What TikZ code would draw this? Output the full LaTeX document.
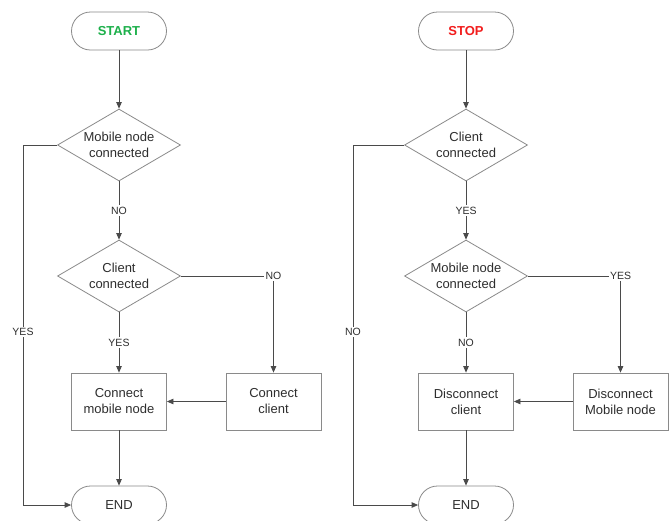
\documentclass[tikz,border=0pt]{standalone}
\usepackage{fontspec}
\setmainfont{Liberation Sans}
\usetikzlibrary{shapes.geometric,arrows.meta}
\definecolor{shapeline}{HTML}{8A8A8A}
\definecolor{linecol}{HTML}{4A4A4A}
\definecolor{txt}{HTML}{2E2E2E}
\definecolor{startgreen}{HTML}{1DB04B}
\definecolor{stopred}{HTML}{F21D1D}
\begin{document}
\begin{tikzpicture}[x=1pt,y=-1pt,
  pill/.style={draw=shapeline, line width=0.8pt, rounded corners=19pt, minimum width=95pt, minimum height=38pt, inner sep=0pt, text=txt, font=\fontsize{13}{15}\selectfont},
  decision/.style={draw=shapeline, line width=0.8pt, diamond, shape aspect=1.7, minimum width=123pt, minimum height=72pt, inner sep=0pt, align=center, text=txt, font=\fontsize{13}{16}\selectfont},
  procbox/.style={draw=shapeline, line width=0.8pt, rectangle, minimum width=95pt, minimum height=57pt, align=center, text=txt, font=\fontsize{13}{16}\selectfont},
  flow/.style={draw=linecol, line width=0.8pt, -{Triangle[length=6.5pt,width=5.5pt]}},
  lbl/.style={fill=white, text=txt, font=\fontsize{10.5}{12}\selectfont, inner sep=1.5pt}]
\useasboundingbox (0,0) rectangle (672,520);
\fill[white] (0,0) rectangle (672,520);
% left chart
\node[pill, text=startgreen, font=\fontsize{13}{15}\selectfont\bfseries] (start) at (119,31) {START};
\node[decision] (d1) at (119,145) {Mobile node\\connected};
\node[decision] (d2) at (119,276) {Client\\connected};
\node[procbox] (cm) at (119,401.5) {Connect\\mobile node};
\node[procbox] (cc) at (273.5,401.5) {Connect\\client};
\node[pill] (end1) at (119,505) {END};
\coordinate (l1) at (23,145);
\coordinate (l2) at (23,505);
\draw[flow] (start) -- (d1);
\draw[flow] (d1) -- node[lbl]{NO} (d2);
\draw[flow] (d2) -- node[lbl]{YES} (cm);
\draw[flow] (d2.east) -| node[lbl]{NO} (cc.north);
\draw[flow] (cc.west) -- (cm.east);
\draw[flow] (cm) -- (end1);
\draw[flow] (d1.west) -- (l1) -- node[lbl,pos=0.52]{YES} (l2) -- (end1.west);
% right chart
\node[pill, text=stopred, font=\fontsize{13}{15}\selectfont\bfseries] (stop) at (466,31) {STOP};
\node[decision] (e1) at (466,145) {Client\\connected};
\node[decision] (e2) at (466,276) {Mobile node\\connected};
\node[procbox] (dc) at (466,401.5) {Disconnect\\client};
\node[procbox] (dm) at (620.5,401.5) {Disconnect\\Mobile node};
\node[pill] (end2) at (466,505) {END};
\coordinate (r1) at (353,145);
\coordinate (r2) at (353,505);
\draw[flow] (stop) -- (e1);
\draw[flow] (e1) -- node[lbl]{YES} (e2);
\draw[flow] (e2) -- node[lbl]{NO} (dc);
\draw[flow] (e2.east) -| node[lbl]{YES} (dm.north);
\draw[flow] (dm.west) -- (dc.east);
\draw[flow] (dc) -- (end2);
\draw[flow] (e1.west) -- (r1) -- node[lbl,pos=0.52]{NO} (r2) -- (end2.west);
\end{tikzpicture}
\end{document}
